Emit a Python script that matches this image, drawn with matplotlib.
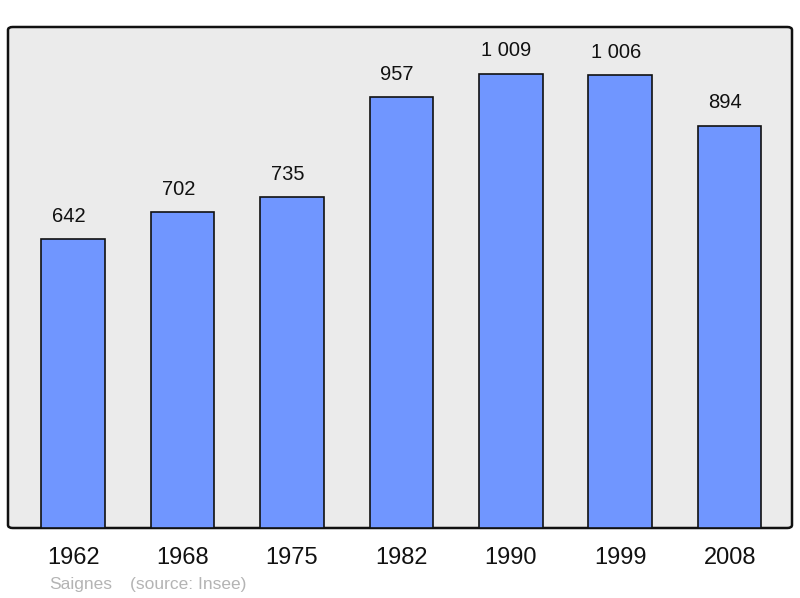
import matplotlib.pyplot as plt
from matplotlib.patches import FancyBboxPatch

years = ["1962", "1968", "1975", "1982", "1990", "1999", "2008"]
population = [642, 702, 735, 957, 1009, 1006, 894]
value_labels = ["642", "702", "735", "957", "1 009", "1 006", "894"]

plt.rcParams['font.family'] = ['Liberation Sans', 'DejaVu Sans']

fig = plt.figure(figsize=(8.0, 5.98), dpi=100)
W, H = 800, 598
# plot area in pixels: left 8, top 27, right 792, bottom 528
ax = fig.add_axes([8 / W, 1 - 528 / H, 784 / W, 501 / H])
ax.set_facecolor("none")

frame = FancyBboxPatch((0, 0), 1, 1, boxstyle="round,pad=0,rounding_size=0.006",
                       transform=ax.transAxes, facecolor="#ebebeb", edgecolor="#111111",
                       linewidth=1.8, zorder=0, clip_on=False)
ax.add_patch(frame)

x = list(range(len(years)))
ax.bar(x, population, width=0.58, color="#7096ff", edgecolor="#111111", linewidth=1.2, zorder=2)

for xi, v, lab in zip(x, population, value_labels):
    ax.annotate(lab, (xi, v), xytext=(-3, 16.5), textcoords="offset points",
                ha="center", va="center", fontsize=14.5, color="#111111")

ax.set_xlim(-0.595, 6.57)
ax.set_ylim(0, 1113)
ax.set_xticks(x)
ax.set_xticklabels(years, fontsize=17, color="#111111")
ax.tick_params(axis="x", length=0, pad=14)
ax.set_yticks([])
for s in ax.spines.values():
    s.set_visible(False)

fig.text(49 / W, 1 - 584 / H, "Saignes", fontsize=12.5, color="#b4b4b4", va="center", ha="left")
fig.text(130 / W, 1 - 584 / H, "(source: Insee)", fontsize=12.5, color="#b4b4b4", va="center", ha="left")

fig.savefig("out.png", dpi=100, facecolor="white")
